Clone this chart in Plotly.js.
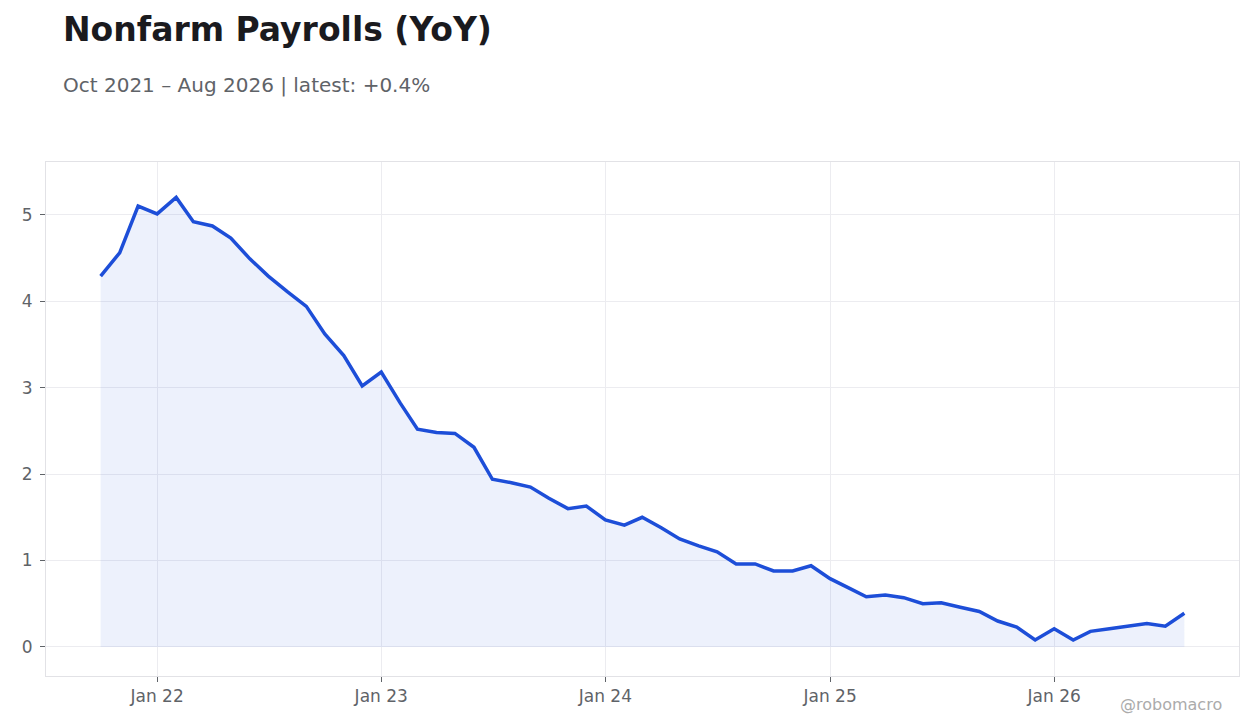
<!DOCTYPE html>
<html>
<head>
<meta charset="utf-8">
<script src="https://cdn.plot.ly/plotly-3.0.1.min.js"></script>
<style>
  html, body { margin: 0; padding: 0; background: #fff; }
  #chart { width: 1260px; height: 728px; }
</style>
</head>
<body>
<div id="chart"></div>
<script>
// monthly YoY % change, Oct 2021 .. Aug 2026
var months = [
  '2021-10-01','2021-11-01','2021-12-01',
  '2022-01-01','2022-02-01','2022-03-01','2022-04-01','2022-05-01','2022-06-01',
  '2022-07-01','2022-08-01','2022-09-01','2022-10-01','2022-11-01','2022-12-01',
  '2023-01-01','2023-02-01','2023-03-01','2023-04-01','2023-05-01','2023-06-01',
  '2023-07-01','2023-08-01','2023-09-01','2023-10-01','2023-11-01','2023-12-01',
  '2024-01-01','2024-02-01','2024-03-01','2024-04-01','2024-05-01','2024-06-01',
  '2024-07-01','2024-08-01','2024-09-01','2024-10-01','2024-11-01','2024-12-01',
  '2025-01-01','2025-02-01','2025-03-01','2025-04-01','2025-05-01','2025-06-01',
  '2025-07-01','2025-08-01','2025-09-01','2025-10-01','2025-11-01','2025-12-01',
  '2026-01-01','2026-02-01','2026-03-01','2026-04-01','2026-05-01','2026-06-01',
  '2026-07-01','2026-08-01'
];
var yoy = [
  4.29, 4.56, 5.10,
  5.01, 5.20, 4.92, 4.87, 4.73, 4.49,
  4.29, 4.11, 3.94, 3.62, 3.37, 3.02,
  3.18, 2.82, 2.52, 2.48, 2.47, 2.31,
  1.94, 1.90, 1.85, 1.72, 1.60, 1.63,
  1.47, 1.41, 1.50, 1.38, 1.25, 1.17,
  1.10, 0.96, 0.96, 0.88, 0.88, 0.94,
  0.79, 0.68, 0.58, 0.60, 0.57, 0.50,
  0.51, 0.46, 0.41, 0.30, 0.23, 0.08,
  0.21, 0.08, 0.18, 0.21, 0.24, 0.27,
  0.24, 0.39
];
var xTickVals = ['2022-01-01','2023-01-01','2024-01-01','2025-01-01','2026-01-01'];
var xTickText = ['Jan 22','Jan 23','Jan 24','Jan 25','Jan 26'];

var font = 'DejaVu Sans, sans-serif';

var trace = {
  x: months,
  y: yoy,
  type: 'scatter',
  mode: 'lines',
  fill: 'tozeroy',
  fillcolor: 'rgba(29,78,216,0.08)',
  line: {color: '#1d4ed8', width: 3.5},
  hoverinfo: 'x+y'
};

var layout = {
  width: 1260,
  height: 728,
  margin: {l: 46, r: 21, t: 162, b: 52},
  paper_bgcolor: '#ffffff',
  plot_bgcolor: '#ffffff',
  showlegend: false,
  font: {family: font, size: 17, color: '#5f6368'},
  xaxis: {
    type: 'date',
    range: ['2021-07-04', '2026-10-29'],
    tickvals: xTickVals,
    ticktext: xTickText,
    ticks: 'outside',
    ticklen: 5,
    tickcolor: '#5f6368',
    showgrid: true,
    gridcolor: '#ececf0',
    zeroline: false,
    showline: true,
    linecolor: '#e2e2e6',
    mirror: true,
    tickfont: {family: font, size: 17, color: '#5f6368'}
  },
  yaxis: {
    range: [-0.336, 5.61],
    tickvals: [0, 1, 2, 3, 4, 5],
    ticks: 'outside',
    ticklen: 5,
    tickcolor: '#5f6368',
    ticklabelstandoff: 4,
    showgrid: true,
    gridcolor: '#ececf0',
    zeroline: false,
    showline: true,
    linecolor: '#e2e2e6',
    mirror: true,
    tickfont: {family: font, size: 17, color: '#5f6368'}
  },
  annotations: [
    {
      text: '<b>Nonfarm Payrolls (YoY)</b>',
      xref: 'paper', yref: 'paper',
      x: (61 - 46) / 1193, y: (676 - 29) / 514,
      xanchor: 'left', yanchor: 'middle',
      showarrow: false,
      font: {family: font, size: 33, color: '#1a1a1e'}
    },
    {
      text: 'Oct 2021 \u2013 Aug 2026 | latest: +0.4%',
      xref: 'paper', yref: 'paper',
      x: (61 - 46) / 1193, y: (676 - 85) / 514,
      xanchor: 'left', yanchor: 'middle',
      showarrow: false,
      font: {family: font, size: 20, color: '#5f6368'}
    },
    {
      text: '@robomacro',
      xref: 'paper', yref: 'paper',
      x: (1224 - 46) / 1193, y: (676 - 704) / 514,
      xanchor: 'right', yanchor: 'middle',
      showarrow: false,
      font: {family: font, size: 16, color: '#ababab'}
    }
  ]
};

Plotly.newPlot('chart', [trace], layout, {displayModeBar: false, staticPlot: true});
</script>
</body>
</html>
